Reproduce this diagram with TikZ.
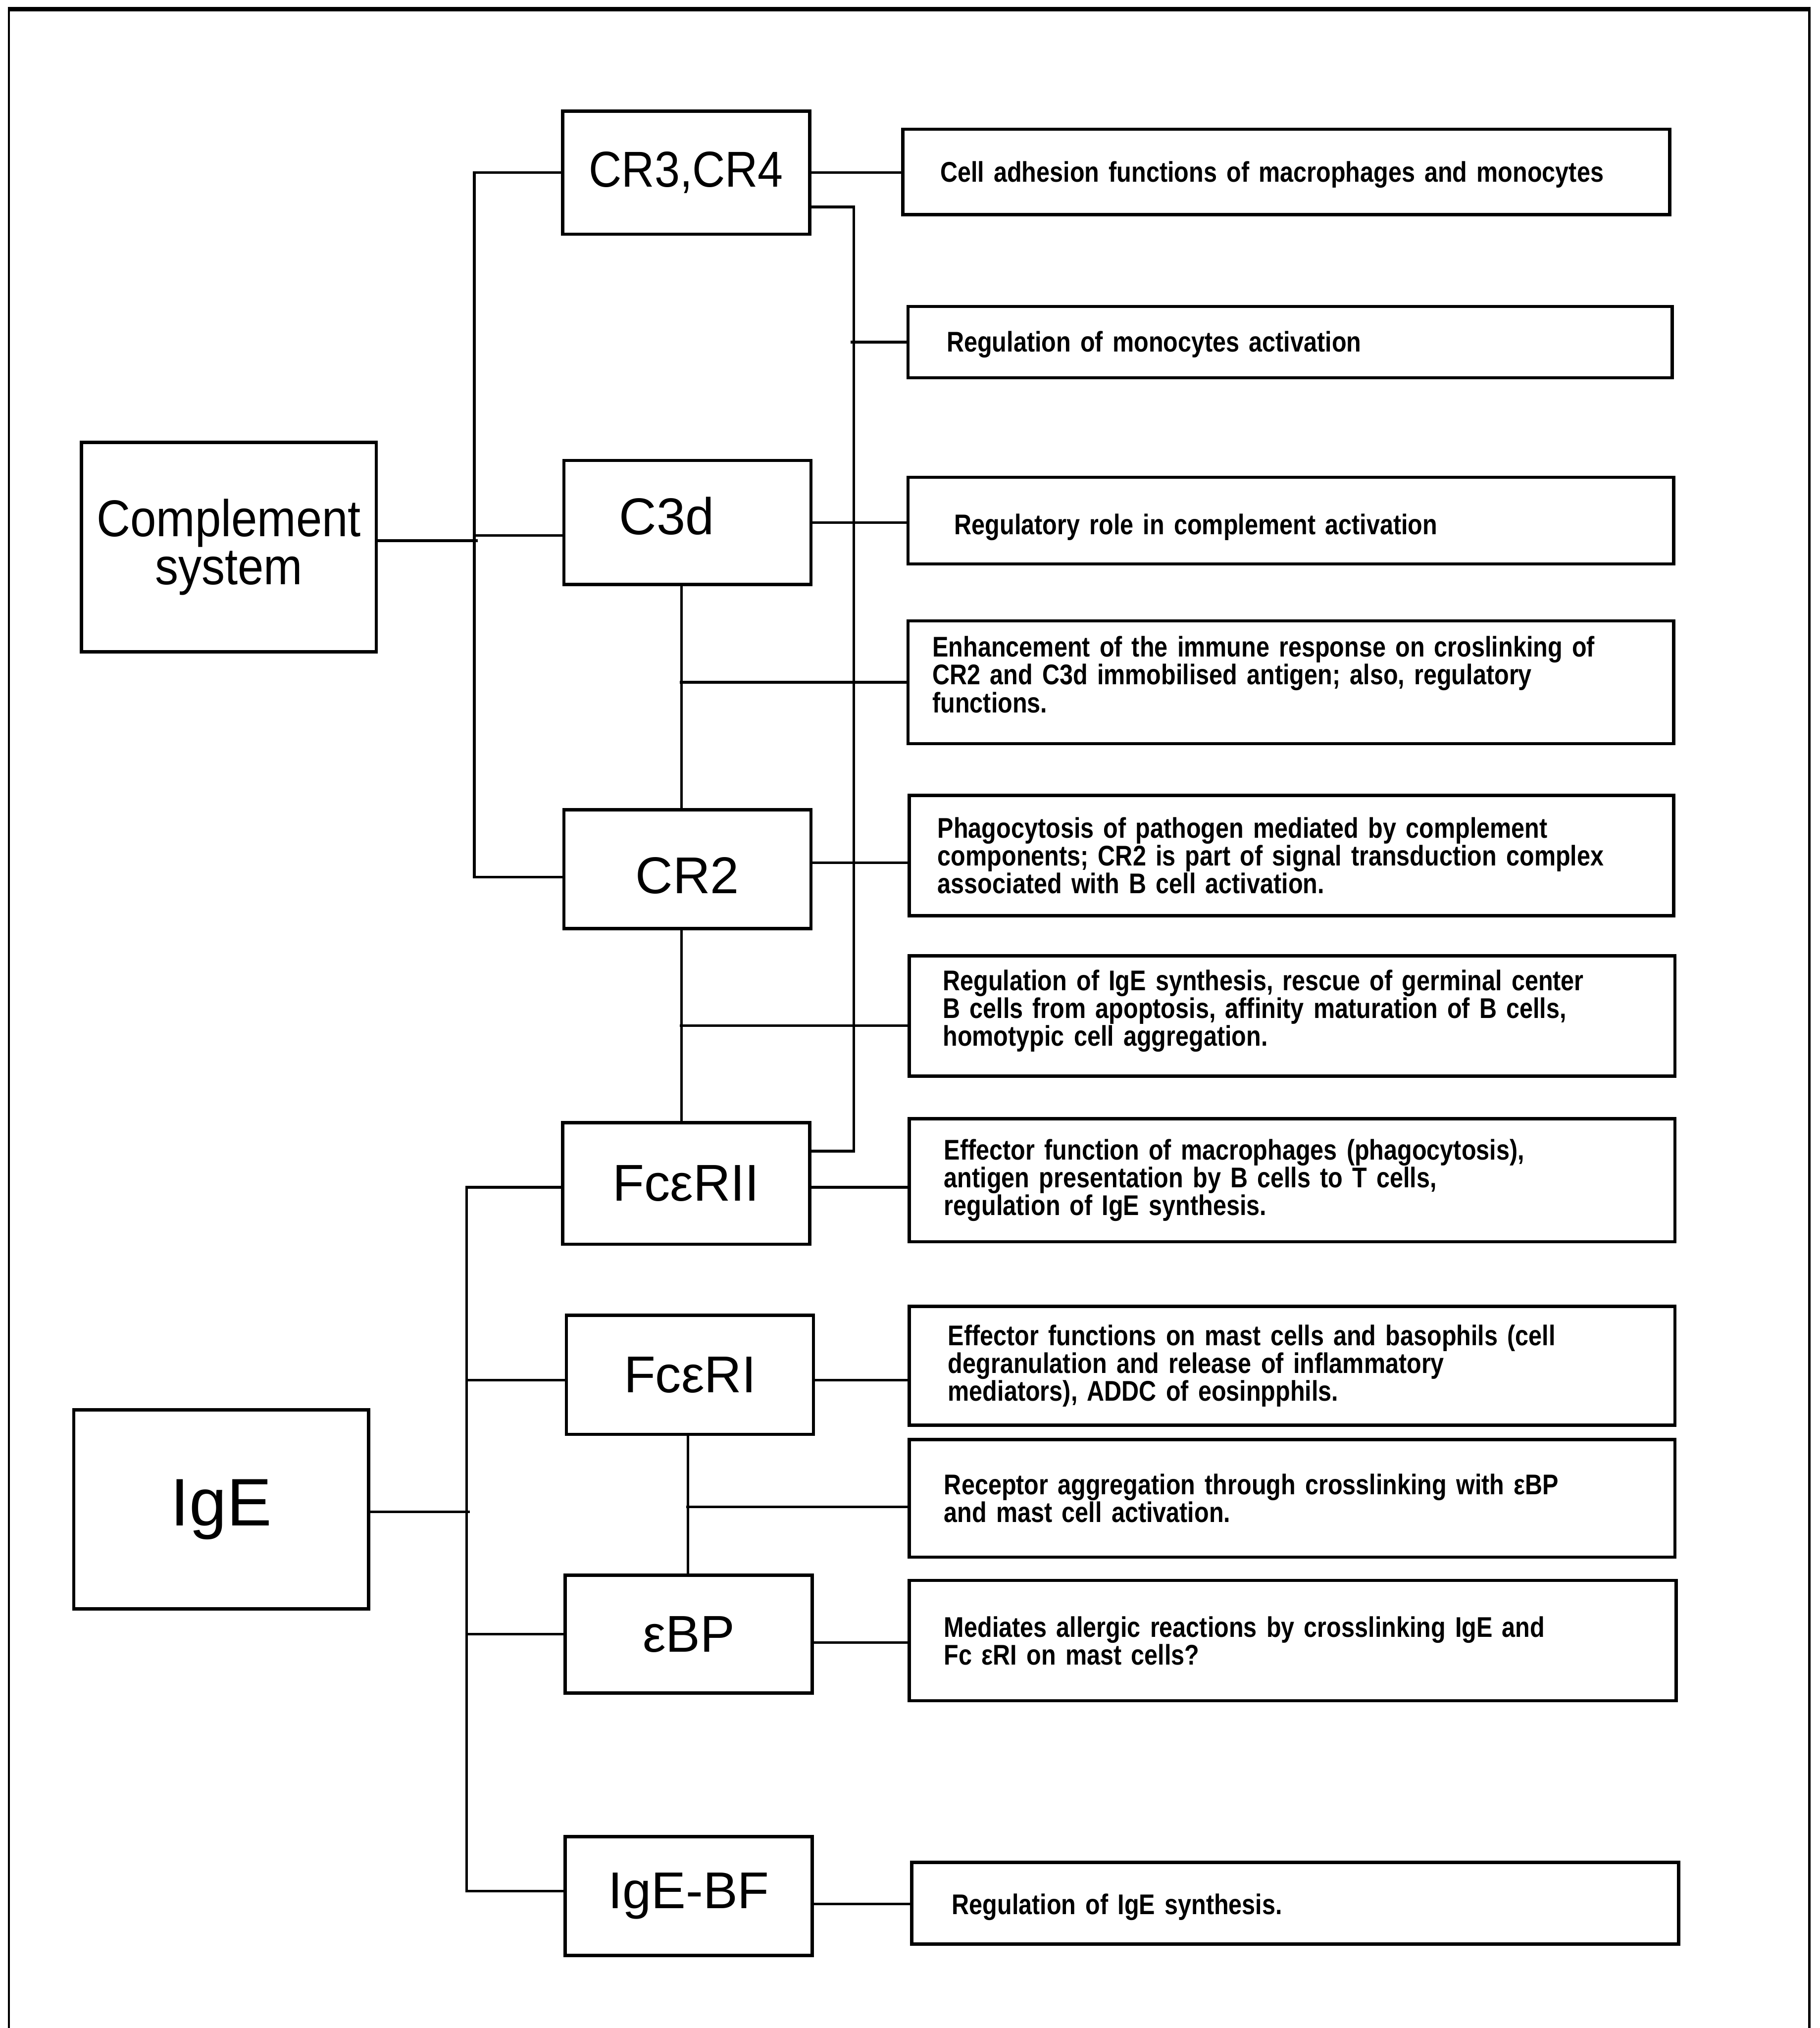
\documentclass[tikz,border=0pt]{standalone}
\usepackage{fontspec}
\setmainfont{Liberation Sans}
\newfontfamily\labfont{Liberation Sans}
\newfontfamily\labnfont{Liberation Sans}[FakeStretch=0.9]
\newfontfamily\descfont{Liberation Sans}[FakeStretch=0.845]
\newcommand\shiftv[2]{\raisebox{#1}[\height][\depth]{#2}}
\tikzset{
  lbox/.style={draw, line width=2.5pt, inner sep=0pt, minimum width=191pt, font=\labfont\fontsize{40}{40}\selectfont},
  rbox/.style={draw, line width=2.5pt, inner sep=0pt, align=left, font=\descfont\bfseries\fontsize{22}{21.5}\selectfont},
  conn/.style={line width=2pt},
  frame/.style={line width=1.6pt}
}
\begin{document}
\begin{tikzpicture}[x=1pt,y=-1pt]
\useasboundingbox (0,0) rectangle (1407,1568);
% outer frame
\draw[frame] (7,1568) -- (7,7);
\draw[frame] (1399,7) -- (1399,1568);
\draw[line width=3.5pt] (6,7) -- (1400,7);

% left main boxes
\node[draw, line width=2.5pt, inner sep=0pt, minimum width=228pt, minimum height=162pt, align=center,
      font=\labnfont\fontsize{40}{37.5}\selectfont] (cs) at (177,423) {Complement\\system};
\node[draw, line width=2.5pt, inner sep=0pt, minimum width=228pt, minimum height=154pt,
      font=\labfont\fontsize{52}{52}\selectfont] (ige) at (171,1167) {IgE};

% middle boxes
\node[lbox, minimum height=95pt, font=\labnfont\fontsize{39}{39}\selectfont] (cr34) at (530.5,133.5) {CR3,CR4};
\node[lbox, minimum height=96pt] (c3d) at (531.5,404) {\shiftv{5pt}{C3d}\hspace*{32pt}};
\node[lbox, minimum height=92pt] (cr2) at (531.5,672) {\shiftv{-5pt}{CR2}};
\node[lbox, minimum height=94pt] (fce2) at (530.5,915) {FcεRII};
\node[lbox, minimum height=92pt] (fce1) at (533.5,1063) {FcεRI};
\node[lbox, minimum height=91pt] (ebp) at (532.5,1263.5) {εBP};
\node[lbox, minimum height=92pt] (igebf) at (532.5,1466) {IgE-BF};

% right description boxes
\node[rbox, minimum width=593pt, minimum height=66pt, text width=535pt] (r1) at (994.5,133)
  {\shiftv{-2pt}{\mbox{Cell adhesion functions of macrophages and monocytes}}};
\node[rbox, minimum width=591pt, minimum height=55pt, text width=531pt] (r2) at (997.5,264.5)
  {\shiftv{-2pt}{\mbox{Regulation of monocytes activation}}};
\node[rbox, minimum width=592pt, minimum height=67pt, text width=520pt] (r3) at (998,402.5)
  {\shiftv{-5pt}{\mbox{Regulatory role in complement activation}}};
\node[rbox, minimum width=592pt, minimum height=95pt, text width=554pt] (r4) at (998,527.5)
  {\mbox{Enhancement of the immune response on croslinking of}\\\mbox{CR2 and C3d immobilised antigen; also, regulatory}\\\mbox{functions.}\vspace*{12pt}};
\node[rbox, minimum width=591pt, minimum height=93pt, text width=547pt] (r5) at (998.5,661.5)
  {\mbox{Phagocytosis of pathogen mediated by complement}\\\mbox{components; CR2 is part of signal transduction complex}\\\mbox{associated with B cell activation.}};
\node[rbox, minimum width=592pt, minimum height=93pt, text width=540pt] (r6) at (999,785.5)
  {\mbox{Regulation of IgE synthesis, rescue of germinal center}\\\mbox{B cells from apoptosis, affinity maturation of B cells,}\\\mbox{homotypic cell aggregation.}\vspace*{8pt}};
\node[rbox, minimum width=592pt, minimum height=95pt, text width=538pt] (r7) at (999,912.5)
  {\mbox{Effector function of macrophages (phagocytosis),}\\\mbox{antigen presentation by B cells to T cells,}\\\mbox{regulation of IgE synthesis.}};
\node[rbox, minimum width=592pt, minimum height=92pt, text width=532pt] (r8) at (999,1056)
  {\mbox{Effector functions on mast cells and basophils (cell}\\\mbox{degranulation and release of inflammatory}\\\mbox{mediators), ADDC of eosinpphils.}};
\node[rbox, minimum width=592pt, minimum height=91pt, text width=538pt] (r9) at (999,1158.5)
  {\mbox{Receptor aggregation through crosslinking with εBP}\\\mbox{and mast cell activation.}};
\node[rbox, minimum width=593pt, minimum height=93pt, text width=539pt] (r10) at (999.5,1268.5)
  {\mbox{Mediates allergic reactions by crosslinking IgE and}\\\mbox{Fc εRI on mast cells?}};
\node[rbox, minimum width=593pt, minimum height=63pt, text width=531pt] (r11) at (1001.5,1471.5)
  {\shiftv{-3pt}{\mbox{Regulation of IgE synthesis.}}};

% complement system tree
\draw[conn] ([yshift=5pt]cs.east) -- ++(77,0);
\draw[conn] (cr34.west) -- ++(-67,0) |- ([yshift=-6pt]cr2.west);
\draw[conn] ([yshift=-10pt]c3d.west) -- ++(-68,0);
\draw[conn] (cr34.east) -- (cr34.east -| r1.west);
\coordinate (fin) at ([yshift=25pt]fce2.east);
\draw[conn] ([yshift=-26.5pt]cr34.east) -| ([xshift=33pt]fin) -- (fin);
\draw[conn] (r2.west) -- ++(-43,0);
\draw[conn] (c3d.east) -- (c3d.east -| r3.west);
\draw[conn] ([xshift=-4.5pt]c3d.south) -- ([xshift=-4.5pt]cr2.north);
\draw[conn] (r4.west) -- ++(-175,0);
\draw[conn] ([yshift=5pt]cr2.east) -- +(76,0);
\draw[conn] ([xshift=-4.5pt]cr2.south) -- ++(0,150);
\draw[conn] ([yshift=-7.5pt]r6.west) -- ++(-176,0);
\draw[conn] ([yshift=-3pt]fce2.east) -- +(77,0);

% IgE tree
\draw[conn] ([yshift=-2pt]ige.east) -- ++(77,0);
\draw[conn] ([yshift=-3pt]fce2.west) -- ++(-73,0) |- ([yshift=4pt]igebf.west);
\draw[conn] ([yshift=-4pt]fce1.west) -- ++(-76,0);
\draw[conn] (ebp.west) -- ++(-75,0);
\draw[conn] ([yshift=-4pt]fce1.east) -- +(74,0);
\draw[conn] ([xshift=-1.5pt]fce1.south) -- ++(0,109);
\draw[conn] ([yshift=-6.5pt]r9.west) -- ++(-171,0);
\draw[conn] ([yshift=-6.5pt]ebp.east) -- +(75,0);
\draw[conn] ([yshift=-6pt]igebf.east) -- +(77,0);
\end{tikzpicture}
\end{document}
